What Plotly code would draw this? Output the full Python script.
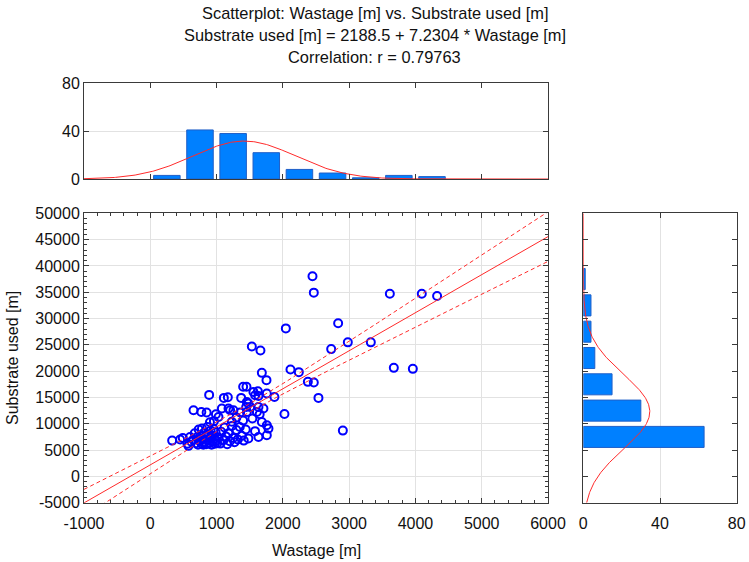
import numpy as np
import plotly.graph_objects as go

# ---------------- data ----------------
wastage = [
    # outliers / x >= 2000
    2447, 2467, 3614, 4096, 4327, 2834, 2045, 2980, 3327, 2729, 3674, 3961, 2115, 2241, 2377, 2467, 2537, 2024, 2905,
    # x < 2000, y >= 15000
    1532, 1662, 1683, 1753, 1401, 1451, 888, 1170, 1556, 1623, 1582, 1632, 1758, 1873,
    # 10000-15000
    1507, 1632, 1707, 1608, 1683, 1540, 1650,
    652, 770, 850, 990, 960, 900,
    1110, 1371, 1080, 1180, 1255, 1356, 1457, 1481, 1447, 1457, 1029, 1205, 1300, 1400, 1230,
    # 5000-10000
    330, 450, 490,
    560, 576, 600, 620, 650, 670, 690, 700, 720, 730, 750, 760, 775, 780, 790, 800, 810, 820, 835, 845,
    860, 870, 880, 890, 900, 910, 925, 935, 945, 955, 965, 975, 985, 995,
    1010, 1030, 1055, 1070, 1104, 1120, 1140, 1160, 1180, 1200, 1230, 1250, 1270, 1300, 1320, 1350, 1380, 1410, 1440, 1480,
    1758, 1783, 1632, 1758, 1580,
]
substrate = [
    38040, 34920, 34720, 34700, 34290, 29090, 28130, 25470, 25470, 24190, 20630, 20440, 20320, 19810, 17970, 17840, 14920, 11870, 8700,
    24700, 23940, 19680, 18290, 17020, 17020, 15490, 15050, 16060, 16190, 15430, 15300, 15750, 15100,
    13200, 13200, 12890, 12250, 10340, 11000, 11800,
    12570, 12250, 12130, 11810, 10500, 10300,
    14920, 14920, 12890, 12890, 12570, 12130, 12250, 13850, 13200, 14150, 11300, 12570, 11200, 10600, 10400,
    6800, 7000, 7300,
    6200, 5800, 7500, 6600, 7000, 8200, 6300, 7400, 6000, 8900, 6700, 7800, 6200, 9100, 7100, 6000, 8300, 6500, 7600, 6100,
    9400, 6900, 8000, 6300, 7300, 8700, 6000, 7700, 6600, 9000, 7200, 6200, 8400, 6800,
    6300, 7400, 6230, 8500, 6860, 9300, 7600, 6100, 8200, 6700, 9600, 7300, 6500, 8800, 7000, 9400, 7700, 6800, 8900, 7200,
    9710, 9080, 7490, 7810, 8600,
]

intercept = 2188.5
slope = 7.2304
r_value = 0.79763

x_tick_vals = [-1000, 0, 1000, 2000, 3000, 4000, 5000, 6000]
x_tick_text = ["-1000", "0", "1000", "2000", "3000", "4000", "5000", "6000"]
y_tick_vals = [-5000, 0, 5000, 10000, 15000, 20000, 25000, 30000, 35000, 40000, 45000, 50000]
y_tick_text = ["-5000", "0", "5000", "10000", "15000", "20000", "25000", "30000", "35000", "40000", "45000", "50000"]
hist_ticks = [0, 40, 80]

title_lines = [
    "Scatterplot: Wastage [m] vs. Substrate used [m]",
    "Substrate used [m] = 2188.5 + 7.2304 * Wastage [m]",
    "Correlation: r = 0.79763",
]
x_title = "Wastage [m]"
y_title = "Substrate used [m]"

# ---------------- derived ----------------
x = np.array(wastage, dtype=float)
y = np.array(substrate, dtype=float)
n = len(x)
xbar, ybar = x.mean(), y.mean()
sx, sy = x.std(ddof=1), y.std(ddof=1)
Sxx = ((x - xbar) ** 2).sum()
resid = y - (intercept + slope * x)
s_res = np.sqrt((resid ** 2).sum() / (n - 2))
t95 = 1.98

xl = np.linspace(-1000, 6000, 300)
yl = intercept + slope * xl
half = t95 * s_res * np.sqrt(1.0 / n + (xl - xbar) ** 2 / Sxx)

xbin, ybin = 500, 5000
xc = np.linspace(-1000, 6000, 400)
xcurve = n * xbin / (sx * np.sqrt(2 * np.pi)) * np.exp(-0.5 * ((xc - xbar) / sx) ** 2)
yc = np.linspace(-5000, 50000, 400)
ycurve = n * ybin / (sy * np.sqrt(2 * np.pi)) * np.exp(-0.5 * ((yc - ybar) / sy) ** 2)

# ---------------- figure ----------------
W, H = 749, 562
FONT = "Liberation Sans, Arial, sans-serif"
BLUE = "#0000ff"
RED = "#ff2a2a"
BAR = "#0080ff"
BAREDGE = "#1f5fc8"
GRID = "#e2e2e2"
FRAME = "#3a3a3a"

fig = go.Figure()

fig.add_trace(go.Scatter(x=x, y=y, mode="markers", xaxis="x", yaxis="y",
                         marker=dict(symbol="circle-open", size=8, color=BLUE,
                                     line=dict(width=2, color=BLUE)),
                         showlegend=False))
fig.add_trace(go.Scatter(x=xl, y=yl, mode="lines", xaxis="x", yaxis="y",
                         line=dict(color=RED, width=1), showlegend=False))
fig.add_trace(go.Scatter(x=xl, y=yl + half, mode="lines", xaxis="x", yaxis="y",
                         line=dict(color=RED, width=1, dash="4px,3px"), showlegend=False))
fig.add_trace(go.Scatter(x=xl, y=yl - half, mode="lines", xaxis="x", yaxis="y",
                         line=dict(color=RED, width=1, dash="4px,3px"), showlegend=False))

# top histogram
fig.add_trace(go.Histogram(x=x, xaxis="x2", yaxis="y2",
                           xbins=dict(start=0, end=6000, size=xbin),
                           marker=dict(color=BAR, line=dict(color=BAREDGE, width=1)),
                           showlegend=False))
fig.add_trace(go.Scatter(x=xc, y=xcurve, mode="lines", xaxis="x2", yaxis="y2",
                         line=dict(color=RED, width=1), showlegend=False))

# right histogram
fig.add_trace(go.Histogram(y=y, xaxis="x3", yaxis="y3", orientation="h",
                           ybins=dict(start=0, end=50000, size=ybin),
                           marker=dict(color=BAR, line=dict(color=BAREDGE, width=1)),
                           showlegend=False))
fig.add_trace(go.Scatter(x=ycurve, y=yc, mode="lines", xaxis="x3", yaxis="y3",
                         line=dict(color=RED, width=1), showlegend=False))

def px_x(p):
    return p / W

def px_y(p):
    return 1 - p / H

main_x = [px_x(84), px_x(548)]
main_y = [px_y(502.7), px_y(213.3)]
top_y = [px_y(179), px_y(83.3)]
right_x = [px_x(583.3), px_x(736.7)]

tickfont = dict(family=FONT, size=16, color="#111")
common = dict(showline=True, linecolor=FRAME, linewidth=1, mirror="ticks",
              ticks="inside", tickcolor=FRAME, ticklen=5, tickwidth=1, automargin=False,
              zeroline=False, tickfont=tickfont, gridcolor=GRID, gridwidth=1.3)

fig.update_layout(
    width=W, height=H,
    margin=dict(l=0, r=0, t=0, b=0, autoexpand=False),
    paper_bgcolor="white", plot_bgcolor="white",
    bargap=0.2,
    font=dict(family=FONT, size=16, color="#111"),
    xaxis=dict(domain=main_x, range=[-1000, 6000], anchor="y",
               tickmode="array", tickvals=x_tick_vals, ticktext=x_tick_text,
               showgrid=True, ticklabelstandoff=6,
               minor=dict(dtick=200, tick0=0, ticks="inside", ticklen=3, tickcolor=FRAME, showgrid=False),
               **common),
    yaxis=dict(domain=main_y, range=[-5000, 50000], anchor="x",
               tickmode="array", tickvals=y_tick_vals, ticktext=y_tick_text,
               showgrid=True,
               minor=dict(dtick=1000, tick0=0, ticks="inside", ticklen=3, tickcolor=FRAME, showgrid=False),
               **common),
    xaxis2=dict(domain=main_x, range=[-1000, 6000], anchor="y2",
                tickmode="array", tickvals=x_tick_vals, showticklabels=False,
                showgrid=False, **common),
    yaxis2=dict(domain=top_y, range=[0, 80], anchor="x2",
                tickmode="array", tickvals=hist_ticks, showgrid=True, **common),
    xaxis3=dict(domain=right_x, range=[0, 80], anchor="y3",
                tickmode="array", tickvals=hist_ticks, showgrid=True,
                ticklabelstandoff=6, **common),
    yaxis3=dict(domain=main_y, range=[-5000, 50000], anchor="x3",
                tickmode="array", tickvals=y_tick_vals, showticklabels=False,
                showgrid=False, **common),
)

annos = []
for i, t in enumerate(title_lines):
    annos.append(dict(text=t, x=0.5, y=px_y(13 + 22 * i), xref="paper", yref="paper",
                      xanchor="center", yanchor="middle", showarrow=False,
                      font=dict(family=FONT, size=16.4, color="#111")))
annos.append(dict(text=x_title, x=px_x(316), y=px_y(550), xref="paper", yref="paper",
                  xanchor="center", yanchor="middle", showarrow=False,
                  font=dict(family=FONT, size=16, color="#111")))
annos.append(dict(text=y_title, x=px_x(13), y=px_y(358), xref="paper", yref="paper",
                  xanchor="center", yanchor="middle", showarrow=False, textangle=-90,
                  font=dict(family=FONT, size=16, color="#111")))
fig.update_layout(annotations=annos)

fig.write_html("out.html",
               config={"displayModeBar": False},
               post_script="document.body.style.margin='0';document.body.style.overflow='hidden';")
